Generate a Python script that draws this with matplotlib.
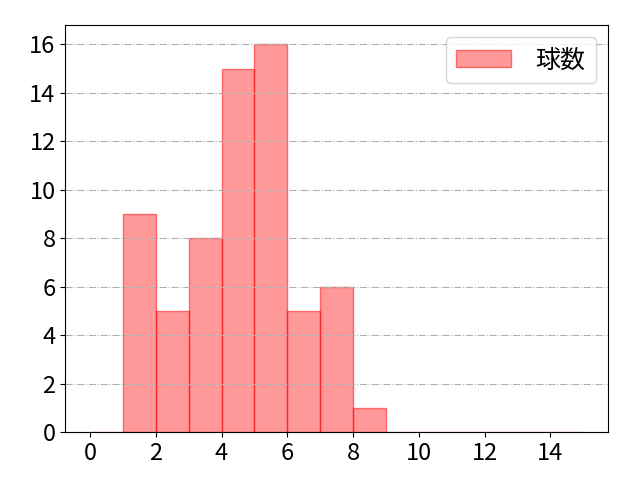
import matplotlib
matplotlib.use('Agg')
import matplotlib.pyplot as plt
import numpy as np

plt.rcParams['font.family'] = ['Noto Sans CJK JP', 'DejaVu Sans']
plt.rcParams['font.size'] = 17

# pitch counts per bin (bins 0..15)
bin_edges = list(range(16))
counts = [0, 9, 5, 8, 15, 16, 5, 6, 1, 0, 0, 0, 0, 0, 0]
label = '球数'

fig, ax = plt.subplots(figsize=(6.4, 4.8), dpi=100)
ax.hist(bin_edges[:-1], bins=bin_edges, weights=counts, label=label,
        facecolor=(1, 0, 0, 0.4), edgecolor=(1, 0, 0, 0.5), linewidth=1)
ax.set_xticks(range(0, 15, 2))
ax.set_yticks(range(0, 17, 2))
# grid sits over the bars like in the original
ax.yaxis.grid(True, linestyle='-.', color='#b0b0b0')
ax.legend(loc='upper right', handlelength=2.2, handletextpad=1.0,
          prop={'size': 18})
fig.subplots_adjust(left=0.102, right=0.95, top=0.948, bottom=0.1)
fig.savefig('out.png')
